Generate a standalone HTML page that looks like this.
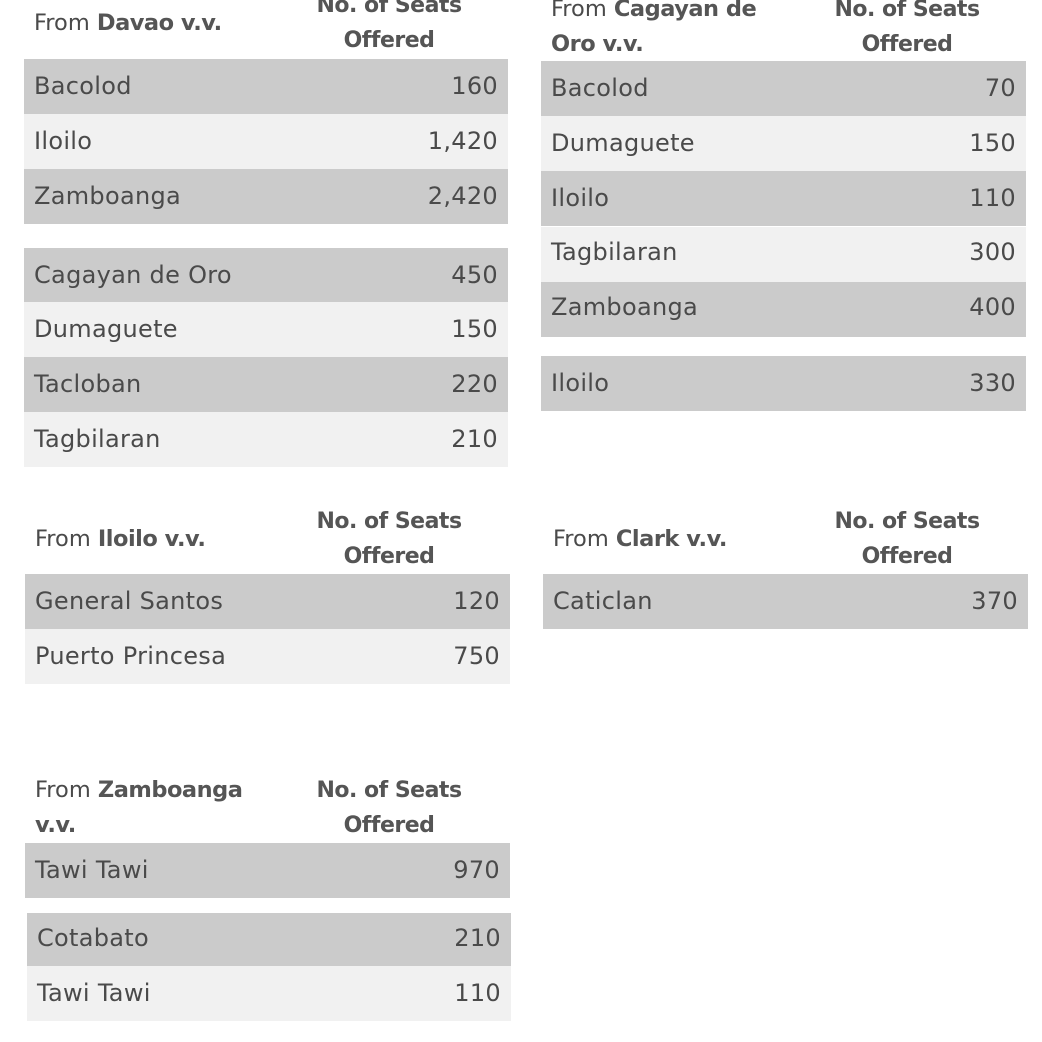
<!DOCTYPE html>
<html><head><meta charset="utf-8"><style>
body{margin:0;width:1042px;height:1042px;background:#fff;position:relative;overflow:hidden;font-family:"DejaVu Sans","Liberation Sans",sans-serif;color:#4a4a4a;font-size:22px}
.r{position:absolute;height:55px;line-height:55px;box-sizing:border-box;padding:0 10px;font-size:24px;letter-spacing:0.3px}
.d{background:#cbcbcb}.l{background:#f1f1f1}
.r span{float:right}
.t{position:absolute;white-space:nowrap;line-height:35px;font-size:22.5px}
b{font-weight:bold;color:#555;letter-spacing:-0.5px}
.h{position:absolute;text-align:center;font-weight:bold;color:#555;line-height:35px;letter-spacing:-0.5px;width:200px}
</style></head><body>
<div class="t" style="left:34px;top:6px">From <b>Davao v.v.</b></div>
<div class="h" style="left:289px;top:-12px">No. of Seats<br>Offered</div>
<div class="r d" style="left:24px;top:59px;width:484px">Bacolod<span>160</span></div>
<div class="r l" style="left:24px;top:114px;width:484px">Iloilo<span>1,420</span></div>
<div class="r d" style="left:24px;top:169px;width:484px">Zamboanga<span>2,420</span></div>
<div class="r d" style="left:24px;top:248px;width:484px;height:54px">Cagayan de Oro<span>450</span></div>
<div class="r l" style="left:24px;top:302px;width:484px">Dumaguete<span>150</span></div>
<div class="r d" style="left:24px;top:357px;width:484px">Tacloban<span>220</span></div>
<div class="r l" style="left:24px;top:412px;width:484px">Tagbilaran<span>210</span></div>
<div class="t" style="left:551px;top:-8px">From <b>Cagayan de</b><br><b>Oro v.v.</b></div>
<div class="h" style="left:807px;top:-8px">No. of Seats<br>Offered</div>
<div class="r d" style="left:541px;top:61px;width:485px">Bacolod<span>70</span></div>
<div class="r l" style="left:541px;top:116px;width:485px">Dumaguete<span>150</span></div>
<div class="r d" style="left:541px;top:171px;width:485px">Iloilo<span>110</span></div>
<div class="r l" style="left:541px;top:227px;width:485px;line-height:50px">Tagbilaran<span>300</span></div>
<div class="r d" style="left:541px;top:282px;width:485px;line-height:50px">Zamboanga<span>400</span></div>
<div class="r d" style="left:541px;top:356px;width:485px">Iloilo<span>330</span></div>
<div class="t" style="left:35px;top:522px">From <b>Iloilo v.v.</b></div>
<div class="h" style="left:289px;top:504px">No. of Seats<br>Offered</div>
<div class="r d" style="left:25px;top:574px;width:485px">General Santos<span>120</span></div>
<div class="r l" style="left:25px;top:629px;width:485px">Puerto Princesa<span>750</span></div>
<div class="t" style="left:553px;top:522px">From <b>Clark v.v.</b></div>
<div class="h" style="left:807px;top:504px">No. of Seats<br>Offered</div>
<div class="r d" style="left:543px;top:574px;width:485px">Caticlan<span>370</span></div>
<div class="t" style="left:35px;top:773px">From <b>Zamboanga</b><br><b>v.v.</b></div>
<div class="h" style="left:289px;top:773px">No. of Seats<br>Offered</div>
<div class="r d" style="left:25px;top:843px;width:485px">Tawi Tawi<span>970</span></div>
<div class="r d" style="left:27px;top:913px;width:484px;height:53px;line-height:50px">Cotabato<span>210</span></div>
<div class="r l" style="left:27px;top:966px;width:484px">Tawi Tawi<span>110</span></div>
</body></html>
